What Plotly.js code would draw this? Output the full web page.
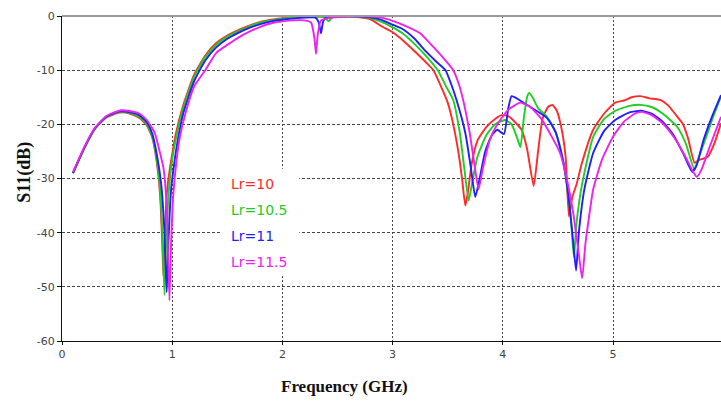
<!DOCTYPE html>
<html><head><meta charset="utf-8">
<script src="https://cdn.plot.ly/plotly-3.0.1.min.js"></script>
<style>html,body{margin:0;padding:0;background:#fff;}#c{width:721px;height:401px;}</style>
</head><body><div id="c"></div>
<script>
var seriesNames = ["Lr=10","Lr=10.5","Lr=11","Lr=11.5"];
var seriesColors = ["#ff2a2a","#22cc22","#1f1fff","#ee22ee"];

var xLr10 = [0.10,0.2,0.3,0.4,0.5,0.55,0.6,0.7,0.77,0.82,0.86,0.89,0.91,0.92,0.93,0.95,0.98,1.0,1.03,1.1,1.2,1.3,1.4,1.5,1.6,1.7,1.8,1.9,2.0,2.2,2.4,2.6,2.7,2.8,2.9,3.0,3.1,3.2,3.3,3.37,3.45,3.5,3.55,3.6,3.63,3.66,3.68,3.72,3.77,3.85,3.93,3.99,4.05,4.12,4.17,4.22,4.28,4.32,4.36,4.41,4.45,4.49,4.53,4.57,4.6,4.63,4.67,4.72,4.82,4.92,5.02,5.1,5.17,5.25,5.33,5.43,5.5,5.58,5.63,5.68,5.74,5.78,5.86,5.92,5.98];
var yLr10 = [-29,-24.5,-20.8,-18.8,-17.9,-17.8,-17.9,-18.8,-20.2,-22.5,-27,-33,-42,-48,-42,-33,-28,-25.5,-22,-16.5,-10.8,-7.3,-5.0,-3.6,-2.6,-1.8,-1.1,-0.7,-0.4,-0.15,-0.05,-0.1,-0.25,-0.6,-1.9,-3.0,-4.6,-6.5,-8.5,-10,-13.5,-16,-20,-25.5,-30,-35,-33,-27,-23,-20.5,-19,-18.3,-18.5,-19.8,-21,-24.5,-31.4,-25,-19,-16.8,-16.4,-17.5,-20.5,-26,-37,-33.5,-31,-27,-21,-18,-16,-15.6,-15,-14.8,-15.2,-15.5,-16.5,-18.5,-19.8,-22.5,-27.1,-26.6,-26,-23.5,-19.8];

var xLr105 = [0.10,0.2,0.3,0.4,0.5,0.55,0.6,0.7,0.77,0.82,0.86,0.89,0.91,0.93,0.945,0.97,1.0,1.04,1.1,1.2,1.3,1.4,1.5,1.6,1.7,1.8,1.9,2.0,2.2,2.38,2.42,2.45,2.6,2.7,2.8,2.9,3.0,3.09,3.2,3.3,3.41,3.48,3.55,3.61,3.65,3.69,3.72,3.77,3.85,3.93,4.02,4.08,4.13,4.16,4.19,4.22,4.24,4.27,4.32,4.4,4.47,4.53,4.58,4.62,4.645,4.67,4.72,4.82,4.92,5.02,5.15,5.25,5.35,5.45,5.58,5.66,5.74,5.78,5.86,5.92,5.98];
var yLr105 = [-29,-24.5,-20.8,-18.7,-17.8,-17.7,-17.8,-18.6,-20,-22.3,-26.5,-32,-40,-51.5,-42,-32,-26.5,-22,-17,-11.2,-7.6,-5.3,-3.8,-2.8,-1.9,-1.2,-0.8,-0.5,-0.2,-0.2,-1.0,-0.3,-0.05,-0.15,-0.4,-1.1,-2.1,-3.2,-5.2,-7.3,-10,-12.8,-15.5,-21.6,-28,-34.1,-31,-26,-22,-20,-19.2,-20,-22.5,-24.2,-19,-15,-14.2,-15,-17,-18.6,-21,-25,-31,-38,-44.5,-38,-31,-22.3,-19,-17.5,-16.6,-16.4,-16.8,-18,-20.4,-23.5,-28.4,-26,-21.5,-18,-14.9];

var xLr11 = [0.10,0.2,0.3,0.4,0.5,0.55,0.6,0.7,0.77,0.82,0.86,0.9,0.93,0.95,0.965,0.99,1.02,1.05,1.1,1.2,1.3,1.4,1.5,1.6,1.7,1.8,1.9,2.0,2.2,2.3,2.33,2.35,2.37,2.4,2.6,2.8,2.9,3.0,3.09,3.2,3.3,3.4,3.48,3.53,3.58,3.66,3.71,3.75,3.79,3.84,3.9,3.95,4.01,4.05,4.08,4.15,4.25,4.4,4.48,4.55,4.6,4.64,4.665,4.69,4.74,4.82,4.92,5.02,5.15,5.25,5.35,5.45,5.55,5.64,5.72,5.76,5.82,5.9,5.98];
var yLr11 = [-29,-24.4,-20.7,-18.6,-17.7,-17.6,-17.7,-18.3,-19.6,-21.8,-25.5,-31,-40,-51,-42,-32,-27,-23,-18,-12,-8.2,-5.8,-4.2,-3.1,-2.2,-1.5,-1.0,-0.7,-0.3,-0.3,-1.2,-3.2,-1,-0.2,-0.05,-0.25,-0.7,-1.6,-2.4,-4.2,-6.5,-8.5,-10,-12.5,-15.5,-21.6,-28,-33.4,-30,-25,-22,-21,-21.8,-17,-14.8,-15.5,-16.8,-18.8,-21.5,-27,-34,-42,-47,-40,-32,-25.3,-21.2,-19.2,-17.8,-17.5,-18,-19.5,-22,-25.5,-28.8,-27.5,-23,-18.5,-14.6];

var xLr115 = [0.10,0.2,0.3,0.4,0.5,0.55,0.6,0.7,0.77,0.84,0.88,0.92,0.95,0.975,0.99,1.01,1.04,1.07,1.12,1.2,1.3,1.4,1.54,1.6,1.7,1.8,1.91,2.0,2.1,2.2,2.26,2.29,2.305,2.32,2.35,2.45,2.6,2.8,2.9,3.0,3.1,3.25,3.35,3.45,3.55,3.6,3.64,3.7,3.74,3.78,3.82,3.88,3.95,4.05,4.16,4.25,4.35,4.45,4.52,4.58,4.64,4.69,4.72,4.75,4.79,4.82,4.9,5.0,5.1,5.2,5.26,5.35,5.45,5.55,5.65,5.72,5.76,5.8,5.88,5.98];
var yLr115 = [-28.8,-24.3,-20.6,-18.5,-17.6,-17.4,-17.5,-18,-19.2,-21.5,-24.5,-28,-35,-52.5,-42,-33,-26.5,-22.3,-18,-13,-10,-6.8,-4.8,-4,-2.9,-2.0,-1.3,-1.0,-0.8,-0.8,-1.2,-4,-7,-3.5,-0.8,-0.3,-0.1,-0.1,-0.3,-0.9,-1.7,-3.2,-5.3,-7.5,-10,-12.5,-15.5,-21.6,-27,-32,-28,-23,-20,-17.3,-16,-16.8,-19,-22.5,-25.3,-30,-36.5,-44,-48.4,-42,-36,-32,-26.5,-22.3,-19.5,-18,-17.7,-18.3,-19.8,-22.3,-25.7,-28.5,-29.7,-28.5,-24,-18.6];

var xTickVals = [0,1,2,3,4,5];
var yTickVals = [0,-10,-20,-30,-40,-50,-60];
var xTitle = "Frequency (GHz)";
var yTitle = "S11(dB)";

var xs = [xLr10, xLr105, xLr11, xLr115];
var ys = [yLr10, yLr105, yLr11, yLr115];
var traces = xs.map(function(x, i){
  return {x: x, y: ys[i], type: 'scatter', mode: 'lines', name: seriesNames[i],
    line: {color: seriesColors[i], width: 1.9, shape: 'spline', smoothing: 0.5}, showlegend: false};
});

var legendY = [0.482, 0.403, 0.323, 0.243];
var annotations = seriesNames.map(function(n, i){
  return {text: n, xref: 'paper', yref: 'paper', x: 0.254, y: legendY[i], xanchor: 'left', yanchor: 'middle',
    showarrow: false, font: {family: 'DejaVu Sans', size: 14, color: seriesColors[i]}};
});
annotations.push({text: '<b>' + xTitle + '</b>', xref: 'paper', yref: 'paper', x: 0.429, y: -0.105, yanchor: 'top', xanchor: 'center',
  showarrow: false, font: {family: 'Liberation Serif', size: 17, color: '#111'}});
annotations.push({text: '<b>' + yTitle + '</b>', xref: 'paper', yref: 'paper', x: -0.058, y: 0.52, xanchor: 'center', yanchor: 'middle',
  textangle: -90, showarrow: false, font: {family: 'Liberation Serif', size: 18, color: '#111'}});

var layout = {
  width: 721, height: 401,
  margin: {l: 62, r: 0, t: 16, b: 60},
  paper_bgcolor: '#fff', plot_bgcolor: '#fff',
  xaxis: {range: [0, 5.98], tickvals: xTickVals, ticktext: xTickVals.map(String),
    showgrid: true, gridcolor: '#444', griddash: '2px,2px', gridwidth: 1,
    showline: true, linecolor: '#111', linewidth: 1, ticks: 'outside', ticklen: 3, tickcolor: '#111',
    zeroline: false, tickfont: {family: 'DejaVu Sans', size: 11, color: '#444'}},
  yaxis: {range: [-60, 0], tickvals: yTickVals, ticktext: yTickVals.map(String),
    showgrid: true, gridcolor: '#444', griddash: '3px,2px', gridwidth: 1,
    showline: true, linecolor: '#111', linewidth: 1, ticks: 'outside', ticklen: 4, tickcolor: '#111',
    zeroline: false, tickfont: {family: 'DejaVu Sans', size: 11, color: '#444'}},
  shapes: [
    {type: 'line', xref: 'paper', yref: 'paper', x0: 0, x1: 1, y0: 1, y1: 1, line: {color: '#999', width: 2}, layer: 'above'},
    {type: 'rect', xref: 'paper', yref: 'paper', x0: 0.243, x1: 0.36, y0: 0.2, y1: 0.53, fillcolor: '#fff', line: {width: 0}, layer: 'above'}
  ],
  annotations: annotations
};
Plotly.newPlot('c', traces, layout, {staticPlot: true});
</script></body></html>
